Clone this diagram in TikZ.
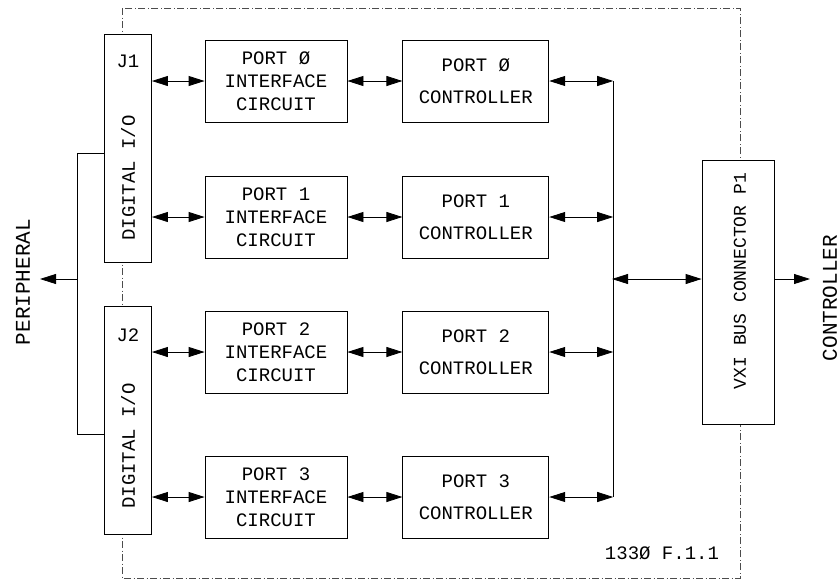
\documentclass[tikz,border=0pt]{standalone}
\usepackage{fontspec}
\newfontfamily\plotfont{Liberation Mono}
\usetikzlibrary{arrows.meta,positioning}

\tikzset{
  blk/.style={draw, line width=0.8pt, fill=white, align=center, inner sep=0pt,
    font=\plotfont\fontsize{19}{23}\selectfont},
  ifbox/.style={blk, minimum width=142pt, minimum height=82pt},
  ctbox/.style={blk, minimum width=146pt, minimum height=82pt},
  jbox/.style={blk, minimum width=47pt, minimum height=228pt},
  frame/.style={line width=0.5pt, black!70, dash pattern=on 7pt off 2.5pt on 1pt off 2.5pt},
  lbl/.style={inner sep=0pt, font=\plotfont\fontsize{19}{23}\selectfont},
  big/.style={inner sep=0pt, font=\plotfont\fontsize{21}{25}\selectfont},
  wire/.style={line width=0.8pt},
  link/.style={wire, {Triangle[length=16pt,width=10pt]}-{Triangle[length=16pt,width=10pt]}},
  feed/.style={wire, -{Triangle[length=16pt,width=10pt]}},
}

\begin{document}
\begin{tikzpicture}[x=1pt,y=-1pt]
\useasboundingbox (0,0) rectangle (840,582);
% board outline
\draw[frame] (122,8) rectangle (740,578);

% the four ports
\node[ifbox] (if0) at (276,81) {PORT Ø\\INTERFACE\\CIRCUIT};
\node[ctbox, right=55pt of if0] (ct0) {PORT Ø\\[9pt]CONTROLLER};
\node[ifbox] (if1) at (276,217) {PORT 1\\INTERFACE\\CIRCUIT};
\node[ctbox, right=55pt of if1] (ct1) {PORT 1\\[9pt]CONTROLLER};
\node[ifbox] (if2) at (276,352) {PORT 2\\INTERFACE\\CIRCUIT};
\node[ctbox, right=55pt of if2] (ct2) {PORT 2\\[9pt]CONTROLLER};
\node[ifbox] (if3) at (276,497) {PORT 3\\INTERFACE\\CIRCUIT};
\node[ctbox, right=55pt of if3] (ct3) {PORT 3\\[9pt]CONTROLLER};

% front connectors
\node[jbox] (j1) at (128,148) {};
\node[lbl] (j1t) at (128,61) {J1};
\node[lbl, rotate=90] (j1d) at (128,178) {DIGITAL I/O};
\node[jbox] (j2) at (128,420) {};
\node[lbl] (j2t) at (128,335) {J2};
\node[lbl, rotate=90] (j2d) at (128,446) {DIGITAL I/O};

% backplane connector
\node[blk, minimum width=72pt, minimum height=264pt] (p1) at (738,292) {};
\node[lbl, rotate=90, font=\plotfont\fontsize{18}{22}\selectfont] (p1t) at (740,281) {VXI BUS CONNECTOR P1};

% outside labels
\node[big, rotate=90] (per) at (23,282) {PERIPHERAL};
\node[big, rotate=90] (ctl) at (830,298) {CONTROLLER};
\node[lbl] (fig) at (662,553) {133Ø F.1.1};

% bus
\coordinate[right=64pt of ct0] (b0);
\coordinate[right=64pt of ct1] (b1);
\coordinate[right=64pt of ct2] (b2);
\coordinate[right=64pt of ct3] (b3);
\coordinate (bm) at (612,279);
\coordinate (out) at (810,279);
\draw[wire] (b0) -- (b3);

\path[link] (j1.east |- if0.west) edge (if0.west)
            (j1.east |- if1.west) edge (if1.west)
            (j2.east |- if2.west) edge (if2.west)
            (j2.east |- if3.west) edge (if3.west)
            (if0) edge (ct0)
            (if1) edge (ct1)
            (if2) edge (ct2)
            (if3) edge (ct3)
            (ct0) edge (b0)
            (ct1) edge (b1)
            (ct2) edge (b2)
            (ct3) edge (b3)
            (bm) edge (bm -| p1.west);
\draw[feed] (p1.east |- out) -- (out);

% peripheral side
\coordinate (pt) at (77,153);
\coordinate (pb) at (77,434);
\coordinate (pm) at (77,279);
\coordinate (pa) at (40,279);
\draw[wire] (j1.west |- pt) -- (pt) -- (pb) -- (j2.west |- pb);
\draw[feed] (pm) -- (pa);
\end{tikzpicture}
\end{document}
